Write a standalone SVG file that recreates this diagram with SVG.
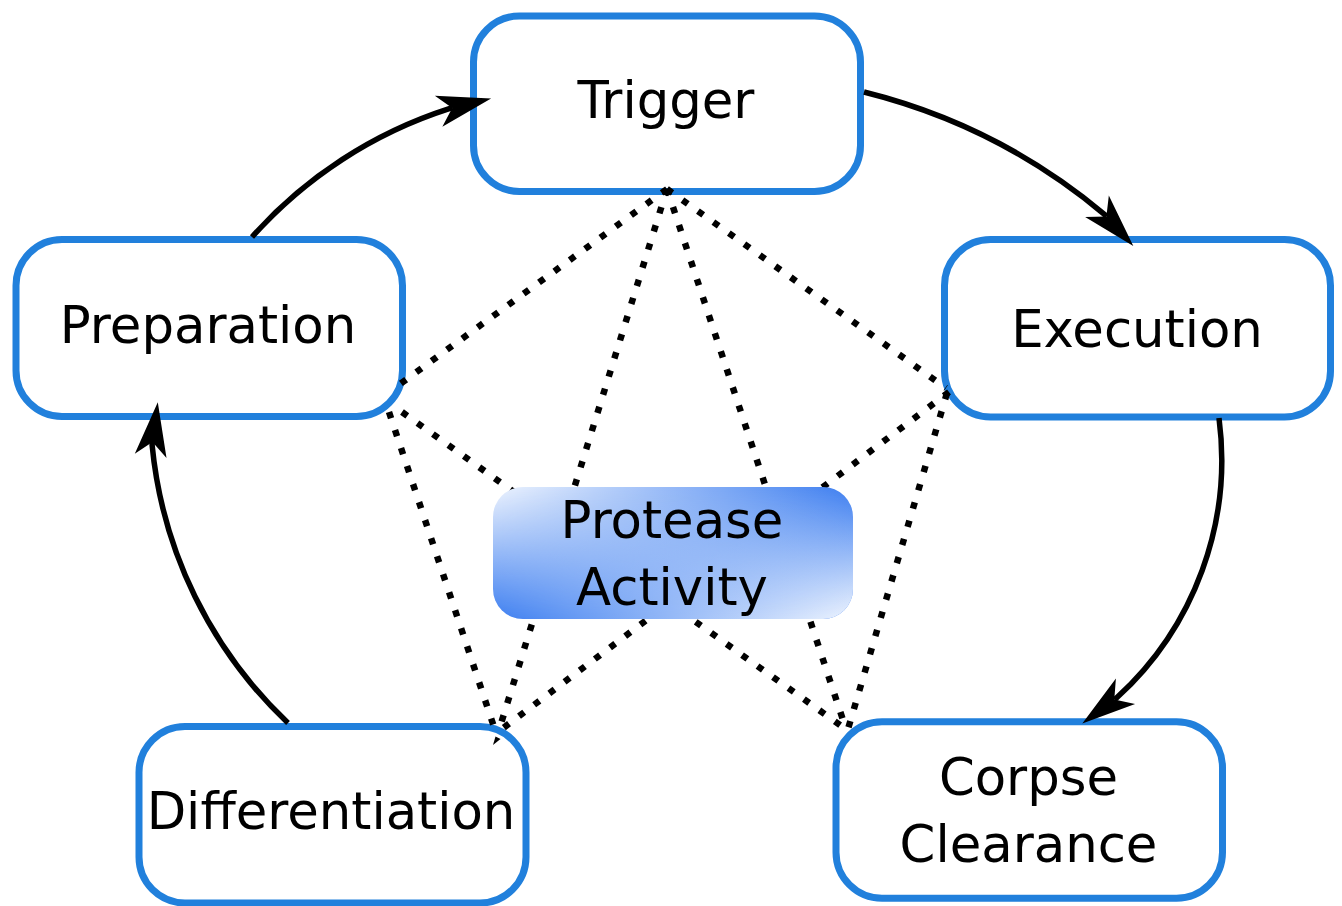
<svg xmlns="http://www.w3.org/2000/svg" width="1342" height="906" viewBox="0 0 1342 906">
  <style>
    .box { fill: #ffffff; stroke: #2180dc; stroke-width: 7; }
    .lbl { font-family: "DejaVu Sans", "Liberation Sans", sans-serif; font-size: 51.3px; fill: #000000; text-anchor: middle; }
    .dot { fill: none; stroke: #000000; stroke-width: 6.5; stroke-dasharray: 6.5 12.5; }
    .arr { fill: none; stroke: #000000; stroke-width: 5.5; marker-end: url(#ah); }
  </style>
  <defs>
    <marker id="ah" viewBox="-16 -18 58 36" refX="0" refY="0" markerWidth="58" markerHeight="36" markerUnits="userSpaceOnUse" orient="auto">
      <path d="M40,0 L-14,-16 L0,0 L-14,16 Z" fill="#000000"/>
    </marker>
    <linearGradient id="gTop" gradientUnits="userSpaceOnUse" x1="493" y1="0" x2="853" y2="0">
      <stop offset="0" stop-color="#eef4fe"/>
      <stop offset="1" stop-color="#3d7ef0"/>
    </linearGradient>
    <linearGradient id="gBot" gradientUnits="userSpaceOnUse" x1="493" y1="0" x2="853" y2="0">
      <stop offset="0" stop-color="#3d7ef0"/>
      <stop offset="1" stop-color="#eef4fe"/>
    </linearGradient>
    <linearGradient id="gMask" gradientUnits="userSpaceOnUse" x1="0" y1="487" x2="0" y2="619">
      <stop offset="0" stop-color="#000000"/>
      <stop offset="1" stop-color="#ffffff"/>
    </linearGradient>
    <mask id="mV" maskUnits="userSpaceOnUse" x="480" y="470" width="390" height="170">
      <rect x="480" y="470" width="390" height="170" fill="url(#gMask)"/>
    </mask>
  </defs>

  <g id="node-trigger">
    <rect class="box" x="473.5" y="16" width="387" height="175.5" rx="46"/>
    <text class="lbl" x="666" y="118">Trigger</text>
  </g>
  <g id="node-preparation">
    <rect class="box" x="16" y="239.5" width="386.5" height="177" rx="46"/>
    <text class="lbl" x="208" y="343">Preparation</text>
  </g>
  <g id="node-execution">
    <rect class="box" x="944.5" y="239.5" width="386" height="177.5" rx="46"/>
    <text class="lbl" x="1137" y="347">Execution</text>
  </g>
  <g id="node-differentiation">
    <rect class="box" x="139" y="726.5" width="387" height="176.5" rx="46"/>
    <text class="lbl" x="331" y="829">Differentiation</text>
  </g>
  <g id="node-corpse-clearance">
    <rect class="box" x="836" y="721.7" width="386.5" height="176.6" rx="46"/>
    <text class="lbl" x="1028.5" y="795">Corpse</text>
    <text class="lbl" x="1028.5" y="862">Clearance</text>
  </g>

  <g id="connectors">
    <line class="dot" x1="667" y1="189" x2="400" y2="384"/>
    <line class="dot" x1="667" y1="189" x2="946" y2="388"/>
    <line class="dot" x1="667" y1="189" x2="499" y2="730"/>
    <line class="dot" x1="667" y1="189" x2="846" y2="729"/>
    <line class="dot" x1="389" y1="412" x2="495" y2="730"/>
    <line class="dot" x1="402" y1="412" x2="847" y2="730"/>
    <line class="dot" x1="949" y1="392" x2="502" y2="729"/>
    <line class="dot" x1="947" y1="393" x2="848" y2="729"/>
    <polygon points="493,745 495.5,736.5 500.5,739" fill="#000000"/>
    <path class="arr" d="M252,237 A448,448 0 0 1 449.3,108.7 L452.2,108"/>
    <path class="arr" d="M864,92 A600,600 0 0 1 1104.4,214.3 L1106.4,216.5"/>
    <path class="arr" d="M1219,418 A322,322 0 0 1 1116.7,697.8 L1114.3,699.6"/>
    <path class="arr" d="M288,723 A441,441 0 0 1 152.1,445 L152.5,442"/>
  </g>

  <g id="node-protease-activity">
    <rect x="493" y="487" width="360" height="132" rx="30" fill="url(#gTop)"/>
    <rect x="493" y="487" width="360" height="132" rx="30" fill="url(#gBot)" mask="url(#mV)"/>
    <text class="lbl" x="672" y="538">Protease</text>
    <text class="lbl" x="672" y="605">Activity</text>
  </g>
</svg>
